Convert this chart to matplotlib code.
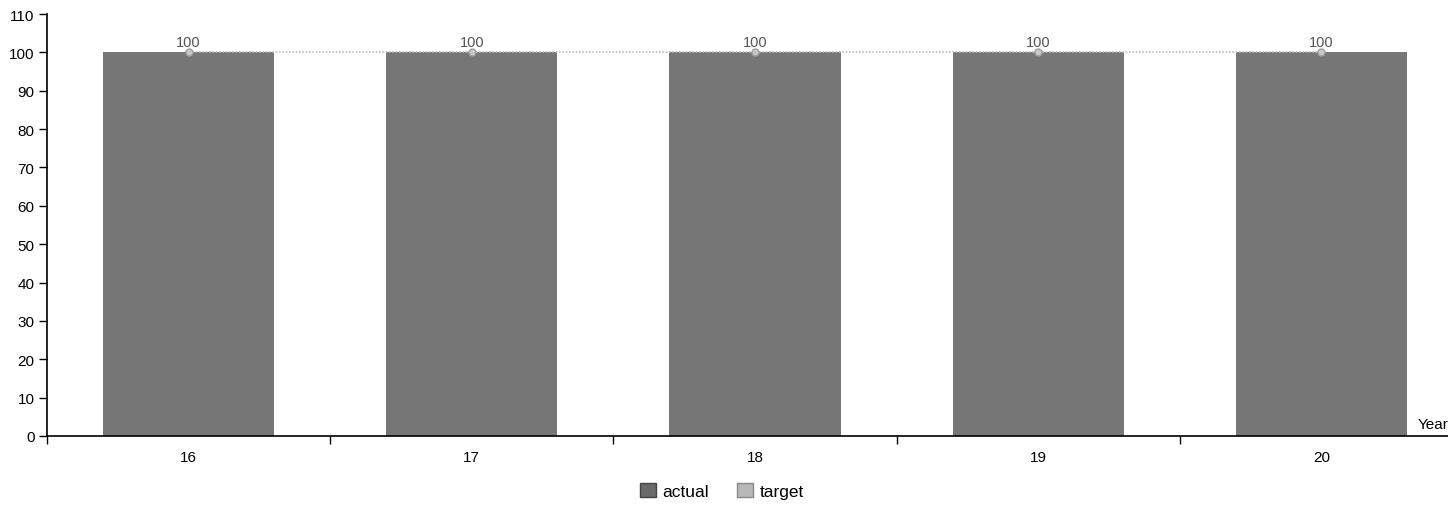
import matplotlib.pyplot as plt
import numpy as np
from matplotlib.patches import Patch

plt.rcParams['font.family'] = ['Liberation Sans', 'DejaVu Sans']

# data
years = ["16", "17", "18", "19", "20"]
actual = [100, 100, 100, 100, 100]
target = [100, 100, 100, 100, 100]
y_ticks = list(range(0, 111, 10))

fig = plt.figure(figsize=(14.48, 5.06), dpi=100)
# x range runs past the right edge of the figure, like the original
ax = fig.add_axes([47 / 1448, 69 / 506, 1416 / 1448, 422 / 506])

x = np.arange(len(years))
ax.bar(x, actual, width=0.605, color="#767676", zorder=2, label="actual")
ax.plot(x, target, color="#bdbdbd", linestyle=(0, (1, 1)), linewidth=1.2,
        marker="o", markersize=5, markerfacecolor="#c8c8c8",
        markeredgecolor="#a0a0a0", zorder=3, label="target")
for xi, v in zip(x, actual):
    ax.text(xi, v + 1.0, str(v), ha="center", va="bottom", fontsize=10.5, color="#555555")

ax.set_xlim(-0.5, len(years) - 0.5)
ax.set_ylim(0, 110)
ax.set_yticks(y_ticks)
ax.set_xticks(np.arange(-0.5, len(years), 1.0))
ax.set_xticklabels([])
ax.set_xticks(x, minor=True)
ax.set_xticklabels(years, minor=True)
ax.tick_params(axis="x", which="minor", length=0, pad=10, labelsize=11)
ax.tick_params(axis="x", which="major", length=6, width=1)
ax.tick_params(axis="y", length=6, width=1, labelsize=11, pad=3)

for s in ["top", "right"]:
    ax.spines[s].set_visible(False)
for s in ["left", "bottom"]:
    ax.spines[s].set_linewidth(1.2)

fig.text(1418 / 1448, (506 - 425) / 506, "Year", fontsize=11, ha="left", va="center")

# legend with square swatches
handles = [Patch(facecolor="#6a6a6a", edgecolor="#444444"),
           Patch(facecolor="#b8b8b8", edgecolor="#888888")]
fig.legend(handles, ["actual", "target"], loc="center", bbox_to_anchor=(722 / 1448, (506 - 492) / 506),
           ncol=2, frameon=False, fontsize=12.5, handlelength=0.9, handleheight=0.9,
           handletextpad=0.4, columnspacing=1.6)

fig.savefig("out.png", dpi=100)
